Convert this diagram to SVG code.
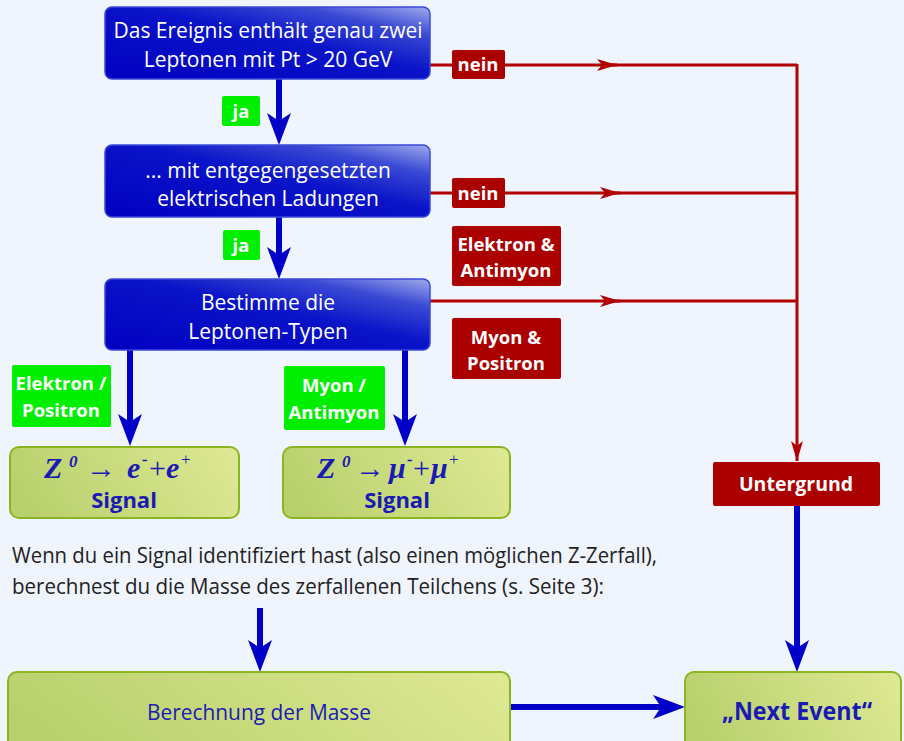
<svg xmlns="http://www.w3.org/2000/svg" width="904" height="741" viewBox="0 0 904 741">
<defs>
<linearGradient id="gBlue" x1="0" y1="1" x2="1" y2="0">
<stop offset="0" stop-color="#0000c0"/>
<stop offset="0.55" stop-color="#0a14c8"/>
<stop offset="0.8" stop-color="#3a4ad4"/>
<stop offset="1" stop-color="#a0acec"/>
</linearGradient>
<linearGradient id="gGreen" x1="0" y1="0.5" x2="1" y2="0.3">
<stop offset="0" stop-color="#b8d06c"/>
<stop offset="1" stop-color="#dde892"/>
</linearGradient>
<marker id="redHead" viewBox="0 0 20 12" refX="20" refY="6" markerWidth="20" markerHeight="12" markerUnits="userSpaceOnUse" orient="auto">
<path d="M0,0 L20,6 L0,12 L5,6 Z" fill="#b00000"/>
</marker>
<path id="bhDown" d="M-12,-32 L0,-24 L12,-32 L0,0 Z" fill="#0000c8"/>
</defs>
<style>
.blue{fill:url(#gBlue);stroke:#3848d8;stroke-width:1.5}
.green{fill:url(#gGreen);stroke:#8ab420;stroke-width:2}
.wt{font-family:"Open Sans","Liberation Sans",sans-serif;font-size:21px;fill:#ffffff;text-anchor:middle}
.lbl{font-family:"Open Sans","Liberation Sans",sans-serif;font-size:18.5px;font-weight:bold;fill:#ffffff;text-anchor:middle}
.gl{fill:#00ee00}
.rl{fill:#aa0000}
.bt{font-family:"Open Sans","Liberation Sans",sans-serif;font-weight:bold;fill:#1a1ab4;text-anchor:middle}
.bn{font-family:"Open Sans","Liberation Sans",sans-serif;font-weight:normal;fill:#1a1ab4;text-anchor:middle}
.f{font-family:"Liberation Serif",serif;font-style:italic;font-weight:bold;fill:#1a1ab4;font-size:30px}
.fs{font-size:17px}
.fn{font-style:normal;font-weight:normal}
.para{font-family:"Open Sans","Liberation Sans",sans-serif;font-size:21px;fill:#222222}
.redline{stroke:#b00000;stroke-width:3;fill:none}
.blueline{stroke:#0000c8;stroke-width:6;fill:none}
</style>
<rect x="0" y="0" width="904" height="741" fill="#f0f4fc"/>

<g id="connectors">
<line class="redline" x1="430" y1="65" x2="617" y2="65" marker-end="url(#redHead)"/>
<line class="redline" x1="610" y1="65" x2="797" y2="65"/>
<line class="redline" x1="430" y1="193" x2="620" y2="193" marker-end="url(#redHead)"/>
<line class="redline" x1="610" y1="193" x2="797" y2="193"/>
<line class="redline" x1="430" y1="301" x2="620" y2="301" marker-end="url(#redHead)"/>
<line class="redline" x1="610" y1="301" x2="797" y2="301"/>
<line class="redline" x1="797" y1="64" x2="797" y2="461" marker-end="url(#redHead)"/>
<line class="blueline" x1="279" y1="79" x2="279" y2="125"/>
<use href="#bhDown" x="279" y="145"/>
<line class="blueline" x1="279" y1="217" x2="279" y2="259"/>
<use href="#bhDown" x="279" y="279"/>
<line class="blueline" x1="130" y1="350" x2="130" y2="426"/>
<use href="#bhDown" x="130" y="446"/>
<line class="blueline" x1="405" y1="350" x2="405" y2="426"/>
<use href="#bhDown" x="405" y="446"/>
<line class="blueline" x1="797" y1="506" x2="797" y2="652"/>
<use href="#bhDown" x="797" y="672"/>
<line class="blueline" x1="260" y1="608" x2="260" y2="652"/>
<use href="#bhDown" x="260" y="672"/>
<line class="blueline" x1="510" y1="707" x2="665" y2="707"/>
<use href="#bhDown" transform="translate(685,707) rotate(-90)"/>
</g>

<g id="box1">
<rect class="blue" x="105" y="7" width="325" height="72" rx="7"/>
<text class="wt" x="268" y="38">Das Ereignis enthält genau zwei</text>
<text class="wt" x="268" y="67">Leptonen mit Pt &gt; 20 GeV</text>
</g>
<g id="box2">
<rect class="blue" x="105" y="145" width="325" height="72" rx="7"/>
<text class="wt" x="268" y="178">... mit entgegengesetzten</text>
<text class="wt" x="268" y="206">elektrischen Ladungen</text>
</g>
<g id="box3">
<rect class="blue" x="105" y="279" width="325" height="71" rx="7"/>
<text class="wt" x="268" y="310">Bestimme die</text>
<text class="wt" x="268" y="339">Leptonen-Typen</text>
</g>

<g id="ja1">
<rect class="gl" x="222" y="96" width="38" height="30" rx="2"/>
<text class="lbl" x="241" y="118">ja</text>
</g>
<g id="ja2">
<rect class="gl" x="223" y="230" width="37" height="30" rx="2"/>
<text class="lbl" x="241" y="252">ja</text>
</g>
<g id="nein1">
<rect class="rl" x="452" y="50" width="53" height="29" rx="2"/>
<text class="lbl" x="478" y="71">nein</text>
</g>
<g id="nein2">
<rect class="rl" x="452" y="178" width="53" height="30" rx="2"/>
<text class="lbl" x="478" y="200">nein</text>
</g>
<g id="lbl-elektron-antimyon">
<rect class="rl" x="452" y="226" width="109" height="60" rx="2"/>
<text class="lbl" x="506" y="251">Elektron &amp;</text>
<text class="lbl" x="506" y="277">Antimyon</text>
</g>
<g id="lbl-myon-positron">
<rect class="rl" x="452" y="318" width="109" height="61" rx="2"/>
<text class="lbl" x="506" y="344">Myon &amp;</text>
<text class="lbl" x="506" y="370">Positron</text>
</g>
<g id="lbl-elektron-positron">
<rect class="gl" x="12" y="365" width="99" height="62" rx="2"/>
<text class="lbl" x="61" y="390">Elektron /</text>
<text class="lbl" x="61" y="417">Positron</text>
</g>
<g id="lbl-myon-antimyon">
<rect class="gl" x="284" y="366" width="101" height="64" rx="2"/>
<text class="lbl" x="334" y="392">Myon /</text>
<text class="lbl" x="334" y="419">Antimyon</text>
</g>

<g id="signal-e">
<rect class="green" x="10" y="447" width="229" height="71" rx="9"/>
<text class="f" y="478"><tspan x="44">Z</tspan><tspan class="fs" x="69" y="467">0</tspan><tspan class="fn" x="86" y="478">→</tspan><tspan x="127">e</tspan><tspan class="fs" x="142" y="465">-</tspan><tspan class="fn" x="149" y="478">+</tspan><tspan x="166">e</tspan><tspan class="fs fn" x="181" y="465">+</tspan></text>
<text class="bt" x="124" y="508" font-size="22">Signal</text>
</g>
<g id="signal-mu">
<rect class="green" x="283" y="447" width="227" height="71" rx="9"/>
<text class="f" y="478"><tspan x="317">Z</tspan><tspan class="fs" x="342" y="467">0</tspan><tspan class="fn" x="355" y="478">→</tspan><tspan x="389">μ</tspan><tspan class="fs" x="407" y="465">-</tspan><tspan class="fn" x="413" y="478">+</tspan><tspan x="431">μ</tspan><tspan class="fs fn" x="449" y="465">+</tspan></text>
<text class="bt" x="397" y="508" font-size="22">Signal</text>
</g>

<g id="untergrund">
<rect class="rl" x="713" y="462" width="167" height="44" rx="2"/>
<text class="lbl" x="796" y="491" style="font-size:19.5px">Untergrund</text>
</g>

<g id="paragraph">
<text class="para" x="12" y="563" textLength="645" lengthAdjust="spacingAndGlyphs">Wenn du ein Signal identifiziert hast (also einen möglichen Z-Zerfall),</text>
<text class="para" x="12" y="594" textLength="592" lengthAdjust="spacingAndGlyphs">berechnest du die Masse des zerfallenen Teilchens (s. Seite 3):</text>
</g>

<g id="berechnung">
<rect class="green" x="8" y="672" width="502" height="80" rx="9"/>
<text class="bn" x="259" y="720" font-size="22" textLength="224" lengthAdjust="spacingAndGlyphs">Berechnung der Masse</text>
</g>
<g id="next-event">
<rect class="green" x="685" y="672" width="216" height="80" rx="9"/>
<text class="bt" x="797" y="720" font-size="25" textLength="150" lengthAdjust="spacingAndGlyphs">„Next Event“</text>
</g>
</svg>
